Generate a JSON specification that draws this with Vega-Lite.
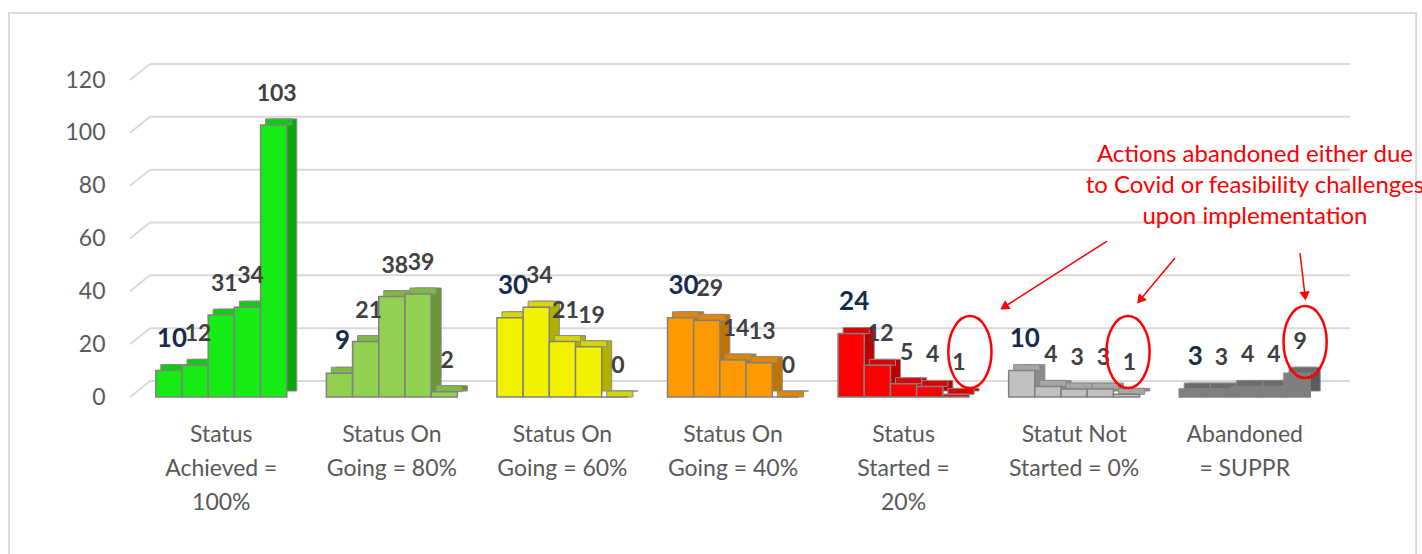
{
  "$schema": "https://vega.github.io/schema/vega-lite/v6.json",
  "width": 1194,
  "height": 317,
  "autosize": {"type": "none"},
  "padding": {"left": 136, "right": 92, "top": 80, "bottom": 157},
  "background": "white",
  "config": {"view": {"stroke": null}, "font": "Lato"},
  "datasets": {
    "bars": [
      {"status": "Status Achieved = 100%", "series": 1, "value": 10},
      {"status": "Status Achieved = 100%", "series": 2, "value": 12},
      {"status": "Status Achieved = 100%", "series": 3, "value": 31},
      {"status": "Status Achieved = 100%", "series": 4, "value": 34},
      {"status": "Status Achieved = 100%", "series": 5, "value": 103},
      {"status": "Status On Going = 80%", "series": 1, "value": 9},
      {"status": "Status On Going = 80%", "series": 2, "value": 21},
      {"status": "Status On Going = 80%", "series": 3, "value": 38},
      {"status": "Status On Going = 80%", "series": 4, "value": 39},
      {"status": "Status On Going = 80%", "series": 5, "value": 2},
      {"status": "Status On Going = 60%", "series": 1, "value": 30},
      {"status": "Status On Going = 60%", "series": 2, "value": 34},
      {"status": "Status On Going = 60%", "series": 3, "value": 21},
      {"status": "Status On Going = 60%", "series": 4, "value": 19},
      {"status": "Status On Going = 60%", "series": 5, "value": 0},
      {"status": "Status On Going = 40%", "series": 1, "value": 30},
      {"status": "Status On Going = 40%", "series": 2, "value": 29},
      {"status": "Status On Going = 40%", "series": 3, "value": 14},
      {"status": "Status On Going = 40%", "series": 4, "value": 13},
      {"status": "Status On Going = 40%", "series": 5, "value": 0},
      {"status": "Status Started = 20%", "series": 1, "value": 24},
      {"status": "Status Started = 20%", "series": 2, "value": 12},
      {"status": "Status Started = 20%", "series": 3, "value": 5},
      {"status": "Status Started = 20%", "series": 4, "value": 4},
      {"status": "Status Started = 20%", "series": 5, "value": 1},
      {"status": "Statut Not Started = 0%", "series": 1, "value": 10},
      {"status": "Statut Not Started = 0%", "series": 2, "value": 4},
      {"status": "Statut Not Started = 0%", "series": 3, "value": 3},
      {"status": "Statut Not Started = 0%", "series": 4, "value": 3},
      {"status": "Statut Not Started = 0%", "series": 5, "value": 1},
      {"status": "Abandoned = SUPPR", "series": 1, "value": 3},
      {"status": "Abandoned = SUPPR", "series": 2, "value": 3},
      {"status": "Abandoned = SUPPR", "series": 3, "value": 4},
      {"status": "Abandoned = SUPPR", "series": 4, "value": 4},
      {"status": "Abandoned = SUPPR", "series": 5, "value": 9}
    ],
    "grid": [{"v": 0}, {"v": 20}, {"v": 40}, {"v": 60}, {"v": 80}, {"v": 100}, {"v": 120}],
    "frame": [{"x": -0.7446, "x2": 7.505, "y": 145.36, "y2": -70}],
    "ellipses": [
      {"x": 4.889, "y": 17.0, "target": "Status Started = 20%"},
      {"x": 5.816, "y": 17.0, "target": "Statut Not Started = 0%"},
      {"x": 6.854, "y": 20.8, "target": "Abandoned = SUPPR"}
    ],
    "arrows": [
      {"x": 5.693, "y": 59.05, "x2": 5.089, "y2": 34.07, "angle": 237.6},
      {"x": 6.091, "y": 52.6, "x2": 5.886, "y2": 36.7, "angle": 219.8},
      {"x": 6.824, "y": 54.5, "x2": 6.854, "y2": 38.2, "angle": 173.4}
    ],
    "note": [
      {"x": 6.56, "y": 88.96, "label": "Actions abandoned either due\nto Covid or feasibility challenges\nupon implementation"}
    ]
  },
  "resolve": {"scale": {"x": "independent"}, "axis": {"x": "independent", "y": "independent"}},
  "layer": [
    {
      "data": {"name": "grid"},
      "layer": [
        {
          "mark": {"type": "rule", "color": "#d9d9d9", "strokeWidth": 2, "y2Offset": -16},
          "encoding": {
            "x": {"datum": -0.0352, "type": "quantitative", "scale": {"domain": [0, 7], "nice": false, "zero": false}, "axis": null},
            "x2": {"datum": 0.0821},
            "y": {"field": "v", "type": "quantitative", "scale": {"domain": [0, 120], "nice": false}, "axis": null},
            "y2": {"field": "v"}
          }
        },
        {
          "mark": {"type": "rule", "color": "#d9d9d9", "strokeWidth": 2, "yOffset": -16},
          "encoding": {
            "x": {"datum": 0.0821, "type": "quantitative", "scale": {"domain": [0, 7], "nice": false, "zero": false}, "axis": null},
            "x2": {"datum": 7.117},
            "y": {"field": "v", "type": "quantitative", "scale": {"domain": [0, 120], "nice": false}, "axis": null}
          }
        }
      ]
    },
    {
      "data": {"name": "bars"},
      "resolve": {"scale": {"xOffset": "independent", "fill": "independent"}},
      "encoding": {
        "x": {
          "field": "status",
          "type": "nominal",
          "sort": ["Status Achieved = 100%", "Status On Going = 80%", "Status On Going = 60%", "Status On Going = 40%", "Status Started = 20%", "Statut Not Started = 0%", "Abandoned = SUPPR"],
          "scale": {"paddingInner": 0.232, "paddingOuter": 0.116},
          "axis": {
            "title": null,
            "labelAngle": 0,
            "domain": false,
            "ticks": false,
            "labelPadding": 26,
            "labelFontSize": 23,
            "labelColor": "#595959",
            "labelFont": "Lato",
            "labelLineHeight": 34,
            "labelBaseline": "top",
            "labelExpr": "datum.value == 'Status Achieved = 100%' ? ['Status', 'Achieved =', '100%'] : datum.value == 'Status On Going = 80%' ? ['Status On', 'Going = 80%'] : datum.value == 'Status On Going = 60%' ? ['Status On', 'Going = 60%'] : datum.value == 'Status On Going = 40%' ? ['Status On', 'Going = 40%'] : datum.value == 'Status Started = 20%' ? ['Status', 'Started =', '20%'] : datum.value == 'Statut Not Started = 0%' ? ['Statut Not', 'Started = 0%'] : ['Abandoned', '= SUPPR']"
          }
        },
        "y": {
          "field": "value",
          "type": "quantitative",
          "scale": {"domain": [0, 120], "nice": false},
          "axis": {
            "title": null,
            "values": [0, 20, 40, 60, 80, 100, 120],
            "grid": false,
            "domain": false,
            "ticks": false,
            "labelPadding": 31,
            "labelFontSize": 23,
            "labelColor": "#595959",
            "labelFont": "Lato"
          }
        }
      },
      "layer": [
        {
          "mark": {"type": "bar", "yOffset": -6, "stroke": "#8a8a8a", "strokeWidth": 1},
          "encoding": {
            "xOffset": {"field": "series", "type": "nominal", "scale": {"range": [10, 141], "paddingInner": 0, "paddingOuter": 0}},
            "fill": {
              "field": "status",
              "type": "nominal",
              "legend": null,
              "scale": {
                "domain": ["Status Achieved = 100%", "Status On Going = 80%", "Status On Going = 60%", "Status On Going = 40%", "Status Started = 20%", "Statut Not Started = 0%", "Abandoned = SUPPR"],
                "range": ["#0aa80a", "#6a9638", "#b0b000", "#c07300", "#b80000", "#8a8a8a", "#5a5a5a"]
              }
            }
          }
        },
        {
          "mark": {"type": "bar", "yOffset": -6, "y2Offset": 0, "stroke": "#8a8a8a", "strokeWidth": 1},
          "encoding": {
            "xOffset": {"field": "series", "type": "nominal", "scale": {"range": [5, 136], "paddingInner": 0, "paddingOuter": 0}},
            "y2": {"field": "value"},
            "fill": {
              "field": "status",
              "type": "nominal",
              "legend": null,
              "scale": {
                "domain": ["Status Achieved = 100%", "Status On Going = 80%", "Status On Going = 60%", "Status On Going = 40%", "Status Started = 20%", "Statut Not Started = 0%", "Abandoned = SUPPR"],
                "range": ["#10cc10", "#80b845", "#d6d600", "#e08600", "#dc0000", "#a6a6a6", "#6c6c6c"]
              }
            }
          }
        },
        {
          "encoding": {
            "xOffset": {"field": "series", "type": "nominal", "scale": {"paddingInner": 0, "paddingOuter": 0}}
          },
          "layer": [
            {
              "mark": {"type": "bar", "stroke": "#808080", "strokeWidth": 1.5},
              "encoding": {
                "color": {
                  "field": "status",
                  "type": "nominal",
                  "legend": null,
                  "scale": {
                    "domain": ["Status Achieved = 100%", "Status On Going = 80%", "Status On Going = 60%", "Status On Going = 40%", "Status Started = 20%", "Statut Not Started = 0%", "Abandoned = SUPPR"],
                    "range": ["#14ec14", "#92d050", "#f2f200", "#ff9900", "#ff0000", "#c0c0c0", "#7f7f7f"]
                  }
                }
              }
            },
            {
              "mark": {"type": "text", "baseline": "alphabetic", "align": "center", "dy": -24, "dx": 3, "fontWeight": "bold", "font": "Lato"},
              "encoding": {
                "text": {"field": "value", "type": "quantitative"},
                "color": {"condition": {"test": "datum.series == 1", "value": "#172b4d"}, "value": "#404040"},
                "size": {"condition": {"test": "datum.series == 1", "value": 26}, "value": 23}
              }
            }
          ]
        }
      ]
    },
    {
      "layer": [
        {
          "data": {"name": "frame"},
          "mark": {"type": "rect", "fill": "transparent", "stroke": "#d9d9d9", "strokeWidth": 2},
          "encoding": {
            "x": {"field": "x", "type": "quantitative", "scale": {"domain": [0, 7], "nice": false, "zero": false}, "axis": null},
            "x2": {"field": "x2"},
            "y": {"field": "y", "type": "quantitative", "scale": {"domain": [0, 120], "nice": false}, "axis": null},
            "y2": {"field": "y2"}
          }
        },
        {
          "data": {"name": "ellipses"},
          "mark": {"type": "point", "filled": false, "stroke": "#ff0000", "strokeWidth": 2.5, "opacity": 1, "shape": "M -0.6 0 A 0.6 1 0 1 0 0.6 0 A 0.6 1 0 1 0 -0.6 0 Z", "size": 5184},
          "encoding": {
            "x": {"field": "x", "type": "quantitative", "scale": {"domain": [0, 7], "nice": false, "zero": false}, "axis": null},
            "y": {"field": "y", "type": "quantitative", "scale": {"domain": [0, 120], "nice": false}, "axis": null}
          }
        },
        {
          "data": {"name": "arrows"},
          "mark": {"type": "rule", "color": "#ff0000", "strokeWidth": 1.5},
          "encoding": {
            "x": {"field": "x", "type": "quantitative", "scale": {"domain": [0, 7], "nice": false, "zero": false}, "axis": null},
            "x2": {"field": "x2"},
            "y": {"field": "y", "type": "quantitative", "scale": {"domain": [0, 120], "nice": false}, "axis": null},
            "y2": {"field": "y2"}
          }
        },
        {
          "data": {"name": "arrows"},
          "mark": {"type": "point", "shape": "triangle-up", "filled": true, "color": "#ff0000", "opacity": 1, "size": 110},
          "encoding": {
            "x": {"field": "x2", "type": "quantitative", "scale": {"domain": [0, 7], "nice": false, "zero": false}, "axis": null},
            "y": {"field": "y2", "type": "quantitative", "scale": {"domain": [0, 120], "nice": false}, "axis": null},
            "angle": {"field": "angle", "type": "quantitative", "scale": null}
          }
        },
        {
          "data": {"name": "note"},
          "mark": {"type": "text", "color": "#ff0000", "fontSize": 24, "font": "Lato", "align": "center", "baseline": "alphabetic", "lineBreak": "\n", "lineHeight": 31},
          "encoding": {
            "x": {"field": "x", "type": "quantitative", "scale": {"domain": [0, 7], "nice": false, "zero": false}, "axis": null},
            "y": {"field": "y", "type": "quantitative", "scale": {"domain": [0, 120], "nice": false}, "axis": null},
            "text": {"field": "label"}
          }
        }
      ]
    }
  ]
}
